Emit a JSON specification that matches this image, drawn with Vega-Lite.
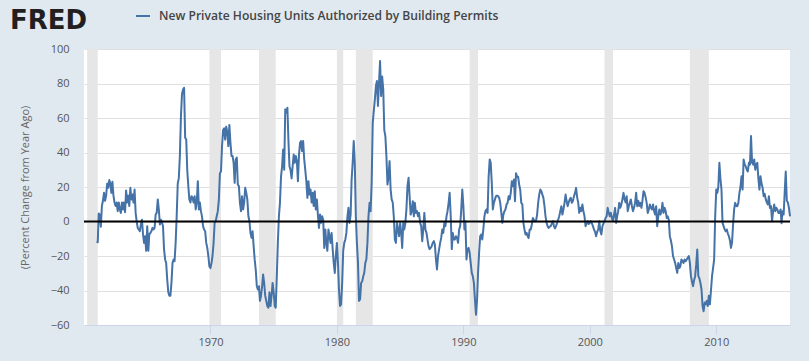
{
"$schema": "https://vega.github.io/schema/vega-lite/v6.json",
"width": 706, "height": 276,
"autosize": {"type": "none"},
"padding": {"left": 84, "top": 49, "right": 19, "bottom": 36},
"background": "#e1e9f0",
"view": {"fill": "#ffffff", "stroke": null},
"config": {"font": "Open Sans"},
"datasets": {
"recessions": [
{"date":"1960-04-01","end":"1961-02-01"},
{"date":"1969-12-01","end":"1970-11-01"},
{"date":"1973-11-01","end":"1975-03-01"},
{"date":"1980-01-01","end":"1980-07-01"},
{"date":"1981-07-01","end":"1982-11-01"},
{"date":"1990-07-01","end":"1991-03-01"},
{"date":"2001-03-01","end":"2001-11-01"},
{"date":"2007-12-01","end":"2009-06-01"}
],
"permits": [
{"date":"1961-01-01","value":-11.4},{"date":"1961-02-01","value":-12},{"date":"1961-03-01","value":4.6},{"date":"1961-04-01","value":4},{"date":"1961-05-01","value":-3},{"date":"1961-06-01","value":9},{"date":"1961-07-01","value":12},{"date":"1961-08-01","value":16.6},{"date":"1961-09-01","value":12},{"date":"1961-10-01","value":15},{"date":"1961-11-01","value":22},{"date":"1961-12-01","value":19.5},
{"date":"1962-01-01","value":24},{"date":"1962-02-01","value":22},{"date":"1962-03-01","value":16.6},{"date":"1962-04-01","value":23},{"date":"1962-05-01","value":15},{"date":"1962-06-01","value":11},{"date":"1962-07-01","value":9},{"date":"1962-08-01","value":11},{"date":"1962-09-01","value":6},{"date":"1962-10-01","value":11},{"date":"1962-11-01","value":7},{"date":"1962-12-01","value":5},
{"date":"1963-01-01","value":11},{"date":"1963-02-01","value":7},{"date":"1963-03-01","value":11},{"date":"1963-04-01","value":5.4},{"date":"1963-05-01","value":18},{"date":"1963-06-01","value":11},{"date":"1963-07-01","value":15},{"date":"1963-08-01","value":9},{"date":"1963-09-01","value":19.5},{"date":"1963-10-01","value":12.8},{"date":"1963-11-01","value":15.6},{"date":"1963-12-01","value":11},
{"date":"1964-01-01","value":18.5},{"date":"1964-02-01","value":5},{"date":"1964-03-01","value":0},{"date":"1964-04-01","value":-3.7},{"date":"1964-05-01","value":-4.6},{"date":"1964-06-01","value":-5.6},{"date":"1964-07-01","value":-1.7},{"date":"1964-08-01","value":1},{"date":"1964-09-01","value":-7.5},{"date":"1964-10-01","value":-12.4},{"date":"1964-11-01","value":-8.5},{"date":"1964-12-01","value":-17},
{"date":"1965-01-01","value":-2.7},{"date":"1965-02-01","value":-17},{"date":"1965-03-01","value":-7.5},{"date":"1965-04-01","value":-6.6},{"date":"1965-05-01","value":-5.6},{"date":"1965-06-01","value":-3.7},{"date":"1965-07-01","value":-4.6},{"date":"1965-08-01","value":-3.7},{"date":"1965-09-01","value":4},{"date":"1965-10-01","value":5},{"date":"1965-11-01","value":12.8},{"date":"1965-12-01","value":7},
{"date":"1966-01-01","value":-1.7},{"date":"1966-02-01","value":1},{"date":"1966-03-01","value":-0.4},{"date":"1966-04-01","value":-2.7},{"date":"1966-05-01","value":-16},{"date":"1966-06-01","value":-22},{"date":"1966-07-01","value":-24},{"date":"1966-08-01","value":-33.6},{"date":"1966-09-01","value":-41},{"date":"1966-10-01","value":-43},{"date":"1966-11-01","value":-43},{"date":"1966-12-01","value":-35.6},
{"date":"1967-01-01","value":-24},{"date":"1967-02-01","value":-22},{"date":"1967-03-01","value":-23},{"date":"1967-04-01","value":-12.4},{"date":"1967-05-01","value":3},{"date":"1967-06-01","value":22},{"date":"1967-07-01","value":25},{"date":"1967-08-01","value":38},{"date":"1967-09-01","value":61},{"date":"1967-10-01","value":73.6},{"date":"1967-11-01","value":76.5},{"date":"1967-12-01","value":77.5},
{"date":"1968-01-01","value":48.5},{"date":"1968-02-01","value":47.5},{"date":"1968-03-01","value":30},{"date":"1968-04-01","value":20.5},{"date":"1968-05-01","value":12.8},{"date":"1968-06-01","value":11},{"date":"1968-07-01","value":14.7},{"date":"1968-08-01","value":13.7},{"date":"1968-09-01","value":11},{"date":"1968-10-01","value":14.7},{"date":"1968-11-01","value":7},{"date":"1968-12-01","value":11},
{"date":"1969-01-01","value":23.4},{"date":"1969-02-01","value":7},{"date":"1969-03-01","value":11},{"date":"1969-04-01","value":6},{"date":"1969-05-01","value":3},{"date":"1969-06-01","value":-2.7},{"date":"1969-07-01","value":-4.6},{"date":"1969-08-01","value":-5.6},{"date":"1969-09-01","value":-12.4},{"date":"1969-10-01","value":-15.3},{"date":"1969-11-01","value":-20},{"date":"1969-12-01","value":-26},
{"date":"1970-01-01","value":-27},{"date":"1970-02-01","value":-24},{"date":"1970-03-01","value":-20},{"date":"1970-04-01","value":-12.4},{"date":"1970-05-01","value":-0.8},{"date":"1970-06-01","value":0.2},{"date":"1970-07-01","value":3},{"date":"1970-08-01","value":6},{"date":"1970-09-01","value":12.8},{"date":"1970-10-01","value":28},{"date":"1970-11-01","value":29},{"date":"1970-12-01","value":43.7},
{"date":"1971-01-01","value":53},{"date":"1971-02-01","value":54},{"date":"1971-03-01","value":47.5},{"date":"1971-04-01","value":55},{"date":"1971-05-01","value":52},{"date":"1971-06-01","value":43.7},{"date":"1971-07-01","value":56},{"date":"1971-08-01","value":45.6},{"date":"1971-09-01","value":38},{"date":"1971-10-01","value":38},{"date":"1971-11-01","value":34},{"date":"1971-12-01","value":22.4},
{"date":"1972-01-01","value":36},{"date":"1972-02-01","value":37},{"date":"1972-03-01","value":21.4},{"date":"1972-04-01","value":20.5},{"date":"1972-05-01","value":11},{"date":"1972-06-01","value":6},{"date":"1972-07-01","value":14.7},{"date":"1972-08-01","value":7},{"date":"1972-09-01","value":11},{"date":"1972-10-01","value":19.5},{"date":"1972-11-01","value":16.6},{"date":"1972-12-01","value":12.8},
{"date":"1973-01-01","value":3},{"date":"1973-02-01","value":0},{"date":"1973-03-01","value":-6.6},{"date":"1973-04-01","value":-9.5},{"date":"1973-05-01","value":-5.6},{"date":"1973-06-01","value":-14.3},{"date":"1973-07-01","value":-22},{"date":"1973-08-01","value":-28},{"date":"1973-09-01","value":-37.5},{"date":"1973-10-01","value":-39.4},{"date":"1973-11-01","value":-37.5},{"date":"1973-12-01","value":-46},
{"date":"1974-01-01","value":-43},{"date":"1974-02-01","value":-37.5},{"date":"1974-03-01","value":-30.7},{"date":"1974-04-01","value":-35.6},{"date":"1974-05-01","value":-43},{"date":"1974-06-01","value":-46},{"date":"1974-07-01","value":-49},{"date":"1974-08-01","value":-50},{"date":"1974-09-01","value":-41},{"date":"1974-10-01","value":-49},{"date":"1974-11-01","value":-43},{"date":"1974-12-01","value":-35.6},
{"date":"1975-01-01","value":-41},{"date":"1975-02-01","value":-49},{"date":"1975-03-01","value":-50},{"date":"1975-04-01","value":-31.7},{"date":"1975-05-01","value":-12.4},{"date":"1975-06-01","value":3},{"date":"1975-07-01","value":10.8},{"date":"1975-08-01","value":26},{"date":"1975-09-01","value":32},{"date":"1975-10-01","value":41.7},{"date":"1975-11-01","value":30},{"date":"1975-12-01","value":65},
{"date":"1976-01-01","value":63},{"date":"1976-02-01","value":66},{"date":"1976-03-01","value":47.5},{"date":"1976-04-01","value":32},{"date":"1976-05-01","value":30},{"date":"1976-06-01","value":25},{"date":"1976-07-01","value":32},{"date":"1976-08-01","value":38.8},{"date":"1976-09-01","value":34},{"date":"1976-10-01","value":38},{"date":"1976-11-01","value":35},{"date":"1976-12-01","value":23.4},
{"date":"1977-01-01","value":38.8},{"date":"1977-02-01","value":45.6},{"date":"1977-03-01","value":46.6},{"date":"1977-04-01","value":40.8},{"date":"1977-05-01","value":46.6},{"date":"1977-06-01","value":36},{"date":"1977-07-01","value":30},{"date":"1977-08-01","value":23.4},{"date":"1977-09-01","value":13.7},{"date":"1977-10-01","value":23.4},{"date":"1977-11-01","value":15.6},{"date":"1977-12-01","value":18.5},
{"date":"1978-01-01","value":11},{"date":"1978-02-01","value":16.6},{"date":"1978-03-01","value":9},{"date":"1978-04-01","value":17.6},{"date":"1978-05-01","value":7},{"date":"1978-06-01","value":12.8},{"date":"1978-07-01","value":4},{"date":"1978-08-01","value":-3.7},{"date":"1978-09-01","value":4},{"date":"1978-10-01","value":-0.8},{"date":"1978-11-01","value":3},{"date":"1978-12-01","value":1},
{"date":"1979-01-01","value":-15.3},{"date":"1979-02-01","value":-4.6},{"date":"1979-03-01","value":-12.4},{"date":"1979-04-01","value":-17},{"date":"1979-05-01","value":-4.6},{"date":"1979-06-01","value":-8.5},{"date":"1979-07-01","value":-12.4},{"date":"1979-08-01","value":-6.6},{"date":"1979-09-01","value":-16},{"date":"1979-10-01","value":-24},{"date":"1979-11-01","value":-29.8},{"date":"1979-12-01","value":-20},
{"date":"1980-01-01","value":-12.4},{"date":"1980-02-01","value":-24},{"date":"1980-03-01","value":-39.4},{"date":"1980-04-01","value":-49},{"date":"1980-05-01","value":-48},{"date":"1980-06-01","value":-35.6},{"date":"1980-07-01","value":-17},{"date":"1980-08-01","value":-12.4},{"date":"1980-09-01","value":-10.4},{"date":"1980-10-01","value":-6.6},{"date":"1980-11-01","value":3},{"date":"1980-12-01","value":8},
{"date":"1981-01-01","value":-0.8},{"date":"1981-02-01","value":4},{"date":"1981-03-01","value":24.3},{"date":"1981-04-01","value":34},{"date":"1981-05-01","value":46.6},{"date":"1981-06-01","value":34},{"date":"1981-07-01","value":3},{"date":"1981-08-01","value":-12.4},{"date":"1981-09-01","value":-24},{"date":"1981-10-01","value":-46},{"date":"1981-11-01","value":-45},{"date":"1981-12-01","value":-35.6},
{"date":"1982-01-01","value":-34.6},{"date":"1982-02-01","value":-31.7},{"date":"1982-03-01","value":-29.8},{"date":"1982-04-01","value":-24},{"date":"1982-05-01","value":-22},{"date":"1982-06-01","value":-12.4},{"date":"1982-07-01","value":3},{"date":"1982-08-01","value":10.8},{"date":"1982-09-01","value":6},{"date":"1982-10-01","value":22.4},{"date":"1982-11-01","value":57},{"date":"1982-12-01","value":64},
{"date":"1983-01-01","value":70.7},{"date":"1983-02-01","value":78.5},{"date":"1983-03-01","value":81.4},{"date":"1983-04-01","value":67},{"date":"1983-05-01","value":80.4},{"date":"1983-06-01","value":93},{"date":"1983-07-01","value":72.7},{"date":"1983-08-01","value":84},{"date":"1983-09-01","value":76.5},{"date":"1983-10-01","value":53},{"date":"1983-11-01","value":49.5},{"date":"1983-12-01","value":38},
{"date":"1984-01-01","value":21.4},{"date":"1984-02-01","value":26},{"date":"1984-03-01","value":35},{"date":"1984-04-01","value":18.5},{"date":"1984-05-01","value":12.8},{"date":"1984-06-01","value":11},{"date":"1984-07-01","value":3},{"date":"1984-08-01","value":-10.4},{"date":"1984-09-01","value":-12.4},{"date":"1984-10-01","value":-0.8},{"date":"1984-11-01","value":-4.6},{"date":"1984-12-01","value":-8.5},
{"date":"1985-01-01","value":-0.8},{"date":"1985-02-01","value":-6.6},{"date":"1985-03-01","value":-15.3},{"date":"1985-04-01","value":-0.8},{"date":"1985-05-01","value":-4.6},{"date":"1985-06-01","value":-0.8},{"date":"1985-07-01","value":7},{"date":"1985-08-01","value":20.5},{"date":"1985-09-01","value":25.3},{"date":"1985-10-01","value":14.7},{"date":"1985-11-01","value":4},{"date":"1985-12-01","value":6},
{"date":"1986-01-01","value":11.8},{"date":"1986-02-01","value":3},{"date":"1986-03-01","value":10.8},{"date":"1986-04-01","value":5},{"date":"1986-05-01","value":6},{"date":"1986-06-01","value":3},{"date":"1986-07-01","value":5},{"date":"1986-08-01","value":-0.8},{"date":"1986-09-01","value":-2.7},{"date":"1986-10-01","value":-11.4},{"date":"1986-11-01","value":-4.6},{"date":"1986-12-01","value":5},
{"date":"1987-01-01","value":-4.6},{"date":"1987-02-01","value":-6.6},{"date":"1987-03-01","value":-10.4},{"date":"1987-04-01","value":-14.3},{"date":"1987-05-01","value":-16},{"date":"1987-06-01","value":-15.3},{"date":"1987-07-01","value":-14.3},{"date":"1987-08-01","value":-12.4},{"date":"1987-09-01","value":-11.4},{"date":"1987-10-01","value":-13.3},{"date":"1987-11-01","value":-22},{"date":"1987-12-01","value":-27.8},
{"date":"1988-01-01","value":-20},{"date":"1988-02-01","value":-16},{"date":"1988-03-01","value":-12.4},{"date":"1988-04-01","value":-9.5},{"date":"1988-05-01","value":-4.6},{"date":"1988-06-01","value":-6.6},{"date":"1988-07-01","value":-0.8},{"date":"1988-08-01","value":-2.7},{"date":"1988-09-01","value":3},{"date":"1988-10-01","value":6},{"date":"1988-11-01","value":10.8},{"date":"1988-12-01","value":16.6},
{"date":"1989-01-01","value":3},{"date":"1989-02-01","value":-16},{"date":"1989-03-01","value":-6.6},{"date":"1989-04-01","value":-10.4},{"date":"1989-05-01","value":-10.4},{"date":"1989-06-01","value":-8.5},{"date":"1989-07-01","value":-9.5},{"date":"1989-08-01","value":-12.4},{"date":"1989-09-01","value":-4.6},{"date":"1989-10-01","value":-2.7},{"date":"1989-11-01","value":7},{"date":"1989-12-01","value":18.5},
{"date":"1990-01-01","value":9},{"date":"1990-02-01","value":-4.6},{"date":"1990-03-01","value":0.2},{"date":"1990-04-01","value":-22},{"date":"1990-05-01","value":-16},{"date":"1990-06-01","value":-15.3},{"date":"1990-07-01","value":-18},{"date":"1990-08-01","value":-24},{"date":"1990-09-01","value":-29.8},{"date":"1990-10-01","value":-31.7},{"date":"1990-11-01","value":-35.6},{"date":"1990-12-01","value":-45},
{"date":"1991-01-01","value":-54},{"date":"1991-02-01","value":-45},{"date":"1991-03-01","value":-29.8},{"date":"1991-04-01","value":-18},{"date":"1991-05-01","value":-8.5},{"date":"1991-06-01","value":-7.5},{"date":"1991-07-01","value":-10.4},{"date":"1991-08-01","value":-4.6},{"date":"1991-09-01","value":3},{"date":"1991-10-01","value":6},{"date":"1991-11-01","value":7},{"date":"1991-12-01","value":5},
{"date":"1992-01-01","value":26},{"date":"1992-02-01","value":36},{"date":"1992-03-01","value":34},{"date":"1992-04-01","value":22.4},{"date":"1992-05-01","value":7},{"date":"1992-06-01","value":10.8},{"date":"1992-07-01","value":12.8},{"date":"1992-08-01","value":14.7},{"date":"1992-09-01","value":15},{"date":"1992-10-01","value":14.7},{"date":"1992-11-01","value":13.7},{"date":"1992-12-01","value":10.8},
{"date":"1993-01-01","value":5},{"date":"1993-02-01","value":-0.8},{"date":"1993-03-01","value":4},{"date":"1993-04-01","value":6},{"date":"1993-05-01","value":7},{"date":"1993-06-01","value":9.9},{"date":"1993-07-01","value":10.8},{"date":"1993-08-01","value":14.7},{"date":"1993-09-01","value":12.8},{"date":"1993-10-01","value":16.6},{"date":"1993-11-01","value":23.4},{"date":"1993-12-01","value":20.5},
{"date":"1994-01-01","value":24.3},{"date":"1994-02-01","value":11.8},{"date":"1994-03-01","value":28},{"date":"1994-04-01","value":26},{"date":"1994-05-01","value":26},{"date":"1994-06-01","value":21.4},{"date":"1994-07-01","value":18.5},{"date":"1994-08-01","value":10.8},{"date":"1994-09-01","value":9.9},{"date":"1994-10-01","value":-0.8},{"date":"1994-11-01","value":-4.6},{"date":"1994-12-01","value":-7.5},
{"date":"1995-01-01","value":-6.6},{"date":"1995-02-01","value":-8.5},{"date":"1995-03-01","value":-9.5},{"date":"1995-04-01","value":-4.6},{"date":"1995-05-01","value":-4.6},{"date":"1995-06-01","value":-1.7},{"date":"1995-07-01","value":2},{"date":"1995-08-01","value":1},{"date":"1995-09-01","value":0.2},{"date":"1995-10-01","value":0.2},{"date":"1995-11-01","value":4},{"date":"1995-12-01","value":10.8},
{"date":"1996-01-01","value":15.6},{"date":"1996-02-01","value":18.5},{"date":"1996-03-01","value":17.6},{"date":"1996-04-01","value":15.6},{"date":"1996-05-01","value":13.7},{"date":"1996-06-01","value":9},{"date":"1996-07-01","value":3},{"date":"1996-08-01","value":-0.8},{"date":"1996-09-01","value":-2.7},{"date":"1996-10-01","value":-3.7},{"date":"1996-11-01","value":-3},{"date":"1996-12-01","value":-2.7},
{"date":"1997-01-01","value":-1},{"date":"1997-02-01","value":0.2},{"date":"1997-03-01","value":-2.7},{"date":"1997-04-01","value":-4},{"date":"1997-05-01","value":-2.7},{"date":"1997-06-01","value":-0.8},{"date":"1997-07-01","value":1},{"date":"1997-08-01","value":3},{"date":"1997-09-01","value":6},{"date":"1997-10-01","value":8.9},{"date":"1997-11-01","value":4},{"date":"1997-12-01","value":7},
{"date":"1998-01-01","value":10.8},{"date":"1998-02-01","value":15.6},{"date":"1998-03-01","value":12},{"date":"1998-04-01","value":8.9},{"date":"1998-05-01","value":11},{"date":"1998-06-01","value":12.8},{"date":"1998-07-01","value":13.7},{"date":"1998-08-01","value":10.8},{"date":"1998-09-01","value":12},{"date":"1998-10-01","value":14.7},{"date":"1998-11-01","value":16.6},{"date":"1998-12-01","value":19.5},
{"date":"1999-01-01","value":14},{"date":"1999-02-01","value":10.8},{"date":"1999-03-01","value":5},{"date":"1999-04-01","value":8},{"date":"1999-05-01","value":6},{"date":"1999-06-01","value":9.9},{"date":"1999-07-01","value":6},{"date":"1999-08-01","value":3},{"date":"1999-09-01","value":-2.7},{"date":"1999-10-01","value":-1},{"date":"1999-11-01","value":0.2},{"date":"1999-12-01","value":-1.5},
{"date":"2000-01-01","value":-0.8},{"date":"2000-02-01","value":0.2},{"date":"2000-03-01","value":-1},{"date":"2000-04-01","value":-2.7},{"date":"2000-05-01","value":-4.6},{"date":"2000-06-01","value":-6},{"date":"2000-07-01","value":-8.5},{"date":"2000-08-01","value":-6},{"date":"2000-09-01","value":-4.6},{"date":"2000-10-01","value":0.2},{"date":"2000-11-01","value":-5.6},{"date":"2000-12-01","value":-7.5},
{"date":"2001-01-01","value":-2.7},{"date":"2001-02-01","value":-1},{"date":"2001-03-01","value":0.2},{"date":"2001-04-01","value":2},{"date":"2001-05-01","value":3},{"date":"2001-06-01","value":7.9},{"date":"2001-07-01","value":5},{"date":"2001-08-01","value":3},{"date":"2001-09-01","value":5},{"date":"2001-10-01","value":2},{"date":"2001-11-01","value":0.2},{"date":"2001-12-01","value":4},
{"date":"2002-01-01","value":7.9},{"date":"2002-02-01","value":-0.8},{"date":"2002-03-01","value":3},{"date":"2002-04-01","value":6},{"date":"2002-05-01","value":10.8},{"date":"2002-06-01","value":8},{"date":"2002-07-01","value":9.9},{"date":"2002-08-01","value":13},{"date":"2002-09-01","value":16.6},{"date":"2002-10-01","value":12.8},{"date":"2002-11-01","value":11},{"date":"2002-12-01","value":14.7},
{"date":"2003-01-01","value":6},{"date":"2003-02-01","value":9},{"date":"2003-03-01","value":10.8},{"date":"2003-04-01","value":12.8},{"date":"2003-05-01","value":9},{"date":"2003-06-01","value":6},{"date":"2003-07-01","value":8},{"date":"2003-08-01","value":10.8},{"date":"2003-09-01","value":16.6},{"date":"2003-10-01","value":8.9},{"date":"2003-11-01","value":12},{"date":"2003-12-01","value":9},
{"date":"2004-01-01","value":10.8},{"date":"2004-02-01","value":7.9},{"date":"2004-03-01","value":12},{"date":"2004-04-01","value":17.6},{"date":"2004-05-01","value":16.6},{"date":"2004-06-01","value":14},{"date":"2004-07-01","value":10.8},{"date":"2004-08-01","value":5},{"date":"2004-09-01","value":7},{"date":"2004-10-01","value":9.9},{"date":"2004-11-01","value":8},{"date":"2004-12-01","value":7},
{"date":"2005-01-01","value":9.9},{"date":"2005-02-01","value":6},{"date":"2005-03-01","value":4},{"date":"2005-04-01","value":8.9},{"date":"2005-05-01","value":-2.7},{"date":"2005-06-01","value":3},{"date":"2005-07-01","value":7},{"date":"2005-08-01","value":4},{"date":"2005-09-01","value":6},{"date":"2005-10-01","value":10.8},{"date":"2005-11-01","value":5},{"date":"2005-12-01","value":8},
{"date":"2006-01-01","value":6},{"date":"2006-02-01","value":2},{"date":"2006-03-01","value":3},{"date":"2006-04-01","value":1},{"date":"2006-05-01","value":-8.5},{"date":"2006-06-01","value":-11},{"date":"2006-07-01","value":-14.3},{"date":"2006-08-01","value":-20},{"date":"2006-09-01","value":-22},{"date":"2006-10-01","value":-24},{"date":"2006-11-01","value":-27},{"date":"2006-12-01","value":-29.8},
{"date":"2007-01-01","value":-24},{"date":"2007-02-01","value":-27},{"date":"2007-03-01","value":-25.9},{"date":"2007-04-01","value":-22},{"date":"2007-05-01","value":-23},{"date":"2007-06-01","value":-24},{"date":"2007-07-01","value":-22},{"date":"2007-08-01","value":-23},{"date":"2007-09-01","value":-22},{"date":"2007-10-01","value":-21},{"date":"2007-11-01","value":-20},{"date":"2007-12-01","value":-24},
{"date":"2008-01-01","value":-31.7},{"date":"2008-02-01","value":-35},{"date":"2008-03-01","value":-37.5},{"date":"2008-04-01","value":-34},{"date":"2008-05-01","value":-31.7},{"date":"2008-06-01","value":-25},{"date":"2008-07-01","value":-16.2},{"date":"2008-08-01","value":-31.7},{"date":"2008-09-01","value":-33},{"date":"2008-10-01","value":-35.6},{"date":"2008-11-01","value":-39.4},{"date":"2008-12-01","value":-49},
{"date":"2009-01-01","value":-52},{"date":"2009-02-01","value":-47},{"date":"2009-03-01","value":-48},{"date":"2009-04-01","value":-46},{"date":"2009-05-01","value":-49},{"date":"2009-06-01","value":-43},{"date":"2009-07-01","value":-48},{"date":"2009-08-01","value":-40},{"date":"2009-09-01","value":-31.7},{"date":"2009-10-01","value":-27},{"date":"2009-11-01","value":-22},{"date":"2009-12-01","value":3},
{"date":"2010-01-01","value":18.5},{"date":"2010-02-01","value":16.6},{"date":"2010-03-01","value":20},{"date":"2010-04-01","value":34},{"date":"2010-05-01","value":25},{"date":"2010-06-01","value":18.5},{"date":"2010-07-01","value":-0.8},{"date":"2010-08-01","value":-2.7},{"date":"2010-09-01","value":-4.6},{"date":"2010-10-01","value":-5.6},{"date":"2010-11-01","value":-4.6},{"date":"2010-12-01","value":-7},
{"date":"2011-01-01","value":-8.5},{"date":"2011-02-01","value":-11},{"date":"2011-03-01","value":-15.3},{"date":"2011-04-01","value":-12.4},{"date":"2011-05-01","value":-2},{"date":"2011-06-01","value":7},{"date":"2011-07-01","value":10.8},{"date":"2011-08-01","value":9},{"date":"2011-09-01","value":8.9},{"date":"2011-10-01","value":10.8},{"date":"2011-11-01","value":16.6},{"date":"2011-12-01","value":20},
{"date":"2012-01-01","value":26.3},{"date":"2012-02-01","value":18.5},{"date":"2012-03-01","value":36},{"date":"2012-04-01","value":33},{"date":"2012-05-01","value":32},{"date":"2012-06-01","value":30},{"date":"2012-07-01","value":29},{"date":"2012-08-01","value":34},{"date":"2012-09-01","value":33},{"date":"2012-10-01","value":49.5},{"date":"2012-11-01","value":34},{"date":"2012-12-01","value":33},
{"date":"2013-01-01","value":36},{"date":"2013-02-01","value":30},{"date":"2013-03-01","value":33},{"date":"2013-04-01","value":34},{"date":"2013-05-01","value":25},{"date":"2013-06-01","value":18.5},{"date":"2013-07-01","value":26.3},{"date":"2013-08-01","value":22},{"date":"2013-09-01","value":19.5},{"date":"2013-10-01","value":14.7},{"date":"2013-11-01","value":16},{"date":"2013-12-01","value":12.8},
{"date":"2014-01-01","value":11},{"date":"2014-02-01","value":9.9},{"date":"2014-03-01","value":14.7},{"date":"2014-04-01","value":7.9},{"date":"2014-05-01","value":8.9},{"date":"2014-06-01","value":0.2},{"date":"2014-07-01","value":6},{"date":"2014-08-01","value":9.9},{"date":"2014-09-01","value":6},{"date":"2014-10-01","value":8},{"date":"2014-11-01","value":7},{"date":"2014-12-01","value":5},
{"date":"2015-01-01","value":5},{"date":"2015-02-01","value":7},{"date":"2015-03-01","value":-1},{"date":"2015-04-01","value":6},{"date":"2015-05-01","value":4},{"date":"2015-06-01","value":17},{"date":"2015-07-01","value":29},{"date":"2015-08-01","value":12},{"date":"2015-09-01","value":11},{"date":"2015-10-01","value":8},{"date":"2015-11-01","value":3}
]
},
"layer": [
{
"encoding": {
"x": {"field": "date", "type": "temporal",
"scale": {"domain": [{"year": 1960, "month": 1, "date": 1}, {"year": 2015, "month": 11, "date": 1}]},
"axis": {"title": null, "values": [{"year": 1970, "month": 1, "date": 1}, {"year": 1980, "month": 1, "date": 1}, {"year": 1990, "month": 1, "date": 1}, {"year": 2000, "month": 1, "date": 1}, {"year": 2010, "month": 1, "date": 1}], "tickCount": 20, "format": "%Y", "grid": false, "domainColor": "#ccd6eb", "tickColor": "#ccd6eb", "tickSize": 9, "labelFontSize": 11, "labelColor": "#555555", "labelPadding": 2, "labelFont": "Open Sans"}}
},
"layer": [
{"data": {"name": "recessions"}, "mark": {"type": "rect", "color": "#e6e6e6"}, "encoding": {"x2": {"field": "end"}}},
{"data": {"name": "permits"}, "mark": {"type": "line", "strokeWidth": 2, "strokeJoin": "round"},
"encoding": {
"y": {"field": "value", "type": "quantitative", "scale": {"domain": [-60, 100], "nice": false, "zero": false},
"axis": {"values": [-60, -40, -20, 0, 20, 40, 60, 80, 100], "tickCount": 12, "labelOverlap": false, "title": "(Percent Change from Year Ago)", "titleFont": "Open Sans", "titleFontSize": 11, "titleFontWeight": "normal", "titleColor": "#666666", "titlePadding": 20, "labelFont": "Open Sans", "labelFontSize": 11, "labelColor": "#555555", "labelPadding": 15, "ticks": false, "tickSize": 0, "domain": false, "grid": true, "gridColor": "#e0e0e0", "gridWidth": 1}},
"color": {"datum": "New Private Housing Units Authorized by Building Permits", "scale": {"range": ["#4572a7"]},
"legend": {"orient": "none", "legendX": -74, "legendY": -41, "title": "FRED", "titleOrient": "left", "titlePadding": 47, "titleFont": "DejaVu Sans", "titleFontSize": 26, "titleFontWeight": "bold", "titleColor": "#231f20", "titleBaseline": "top", "titleAnchor": "start", "padding": 0, "symbolType": "stroke", "symbolStrokeWidth": 2, "symbolSize": 196, "symbolOffset": 0, "labelOffset": 8, "labelFont": "Open Sans", "labelFontSize": 12.1, "labelFontWeight": 600, "labelColor": "#444444", "labelLimit": 600, "offset": 0}}
}}
]
},
{"data": {"values": [{}]}, "mark": {"type": "rule", "color": "#000000", "strokeWidth": 2}, "encoding": {"y": {"datum": 0}}}
]
}
